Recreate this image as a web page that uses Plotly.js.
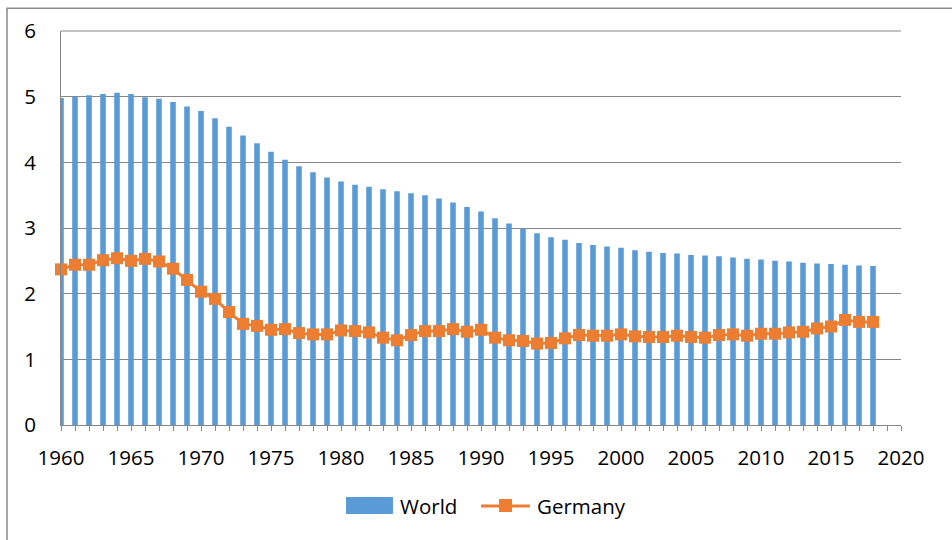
<!DOCTYPE html>
<html>
<head>
<meta charset="utf-8">
<script src="https://cdn.plot.ly/plotly-3.0.1.min.js"></script>
<style>
html,body{margin:0;padding:0;background:#fff;}
#chart{width:952px;height:540px;}
</style>
</head>
<body>
<div id="chart"></div>
<script>
const years = [];
for (let y = 1960; y <= 2018; y++) years.push(y);

const worldFertility = [
  4.98, 5.00, 5.02, 5.04, 5.06, 5.04, 4.99, 4.97, 4.92, 4.85,
  4.78, 4.67, 4.54, 4.41, 4.29, 4.16, 4.04, 3.94, 3.85, 3.77,
  3.71, 3.66, 3.63, 3.59, 3.56, 3.53, 3.50, 3.45, 3.39, 3.32,
  3.25, 3.15, 3.07, 2.99, 2.92, 2.86, 2.82, 2.77, 2.74, 2.72,
  2.70, 2.66, 2.64, 2.62, 2.61, 2.59, 2.58, 2.57, 2.55, 2.53,
  2.52, 2.50, 2.49, 2.47, 2.46, 2.45, 2.44, 2.43, 2.42
];

const germanyFertility = [
  2.37, 2.44, 2.44, 2.51, 2.54, 2.50, 2.53, 2.49, 2.38, 2.21,
  2.03, 1.92, 1.72, 1.54, 1.51, 1.45, 1.46, 1.40, 1.38, 1.38,
  1.44, 1.43, 1.41, 1.33, 1.29, 1.37, 1.43, 1.43, 1.46, 1.42,
  1.45, 1.33, 1.29, 1.28, 1.24, 1.25, 1.32, 1.37, 1.36, 1.36,
  1.38, 1.35, 1.34, 1.34, 1.36, 1.34, 1.33, 1.37, 1.38, 1.36,
  1.39, 1.39, 1.41, 1.42, 1.47, 1.50, 1.60, 1.57, 1.57
];

const seriesNames = ["World", "Germany"];
const xTickVals = [1960, 1965, 1970, 1975, 1980, 1985, 1990, 1995, 2000, 2005, 2010, 2015, 2020];
const yTickVals = [0, 1, 2, 3, 4, 5, 6];

const worldColor = "#5B9BD5";
const germanyColor = "#ED7D31";
const font = {family: "Open Sans, Liberation Sans, sans-serif", size: 20.5, color: "#000"};

const traces = [
  {
    type: "bar",
    name: seriesNames[0],
    x: years,
    y: worldFertility,
    width: 0.4,
    marker: {color: worldColor},
    showlegend: false
  },
  {
    type: "scatter",
    mode: "lines+markers",
    name: seriesNames[1],
    x: years,
    y: germanyFertility,
    line: {color: germanyColor, width: 3},
    marker: {symbol: "square", size: 12, color: germanyColor},
    cliponaxis: false,
    showlegend: false
  }
];

const legendY = -0.2056;

const layout = {
  width: 952,
  height: 540,
  margin: {l: 61, r: 51, t: 31, b: 115},
  paper_bgcolor: "#fff",
  plot_bgcolor: "#fff",
  font: font,
  showlegend: false,
  xaxis: {
    range: [1960, 2020],
    tickvals: xTickVals,
    ticktext: xTickVals.map(String),
    ticks: "outside",
    ticklen: 5,
    tickcolor: "#868686",
    tickwidth: 1,
    minor: {dtick: 1, tick0: 1960, ticks: "outside", ticklen: 5, tickcolor: "#868686", tickwidth: 1, showgrid: false},
    showline: true,
    linecolor: "#868686",
    linewidth: 1,
    showgrid: false,
    zeroline: false,
    tickfont: font,
    ticklabelstandoff: 9,
    fixedrange: true
  },
  yaxis: {
    range: [0, 6],
    tickvals: yTickVals,
    ticks: "",
    showline: true,
    linecolor: "#868686",
    linewidth: 1,
    showgrid: true,
    gridcolor: "#868686",
    gridwidth: 1,
    zeroline: false,
    tickfont: font,
    ticklabelstandoff: 20,
    fixedrange: true
  },
  shapes: [
    {
      type: "rect", xref: "paper", yref: "paper",
      x0: -0.0643, x1: 1.08, y0: -0.32, y1: 1.058,
      line: {color: "#898989", width: 1.5},
      layer: "below"
    },
    {
      type: "line", xref: "x", yref: "paper",
      x0: 1960, x1: 2020, y0: 1, y1: 1,
      line: {color: "#868686", width: 1},
      layer: "below"
    },
    {
      type: "rect", xref: "paper", yref: "paper",
      x0: 0.3393, x1: 0.3952, y0: -0.2259, y1: -0.1827,
      fillcolor: worldColor, line: {width: 0}
    },
    {
      type: "line", xref: "paper", yref: "paper",
      x0: 0.5, x1: 0.5583, y0: legendY, y1: legendY,
      line: {color: germanyColor, width: 3}
    },
    {
      type: "rect", xref: "paper", yref: "paper",
      x0: 0.5214, x1: 0.5369, y0: -0.2208, y1: -0.1878,
      fillcolor: germanyColor, line: {width: 0}
    }
  ],
  annotations: [
    {
      xref: "paper", yref: "paper", x: 0.4012, y: legendY,
      xanchor: "left", yanchor: "middle", text: seriesNames[0],
      showarrow: false, font: font
    },
    {
      xref: "paper", yref: "paper", x: 0.5643, y: legendY,
      xanchor: "left", yanchor: "middle", text: seriesNames[1],
      showarrow: false, font: font
    }
  ]
};

Plotly.newPlot("chart", traces, layout, {displayModeBar: false, staticPlot: true});
</script>
</body>
</html>
